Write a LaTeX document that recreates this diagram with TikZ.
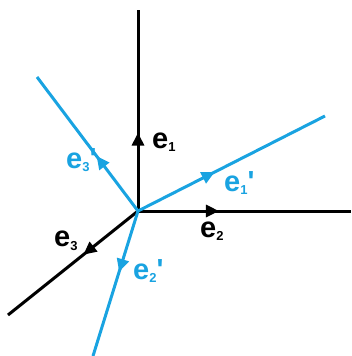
\documentclass[tikz,border=0pt]{standalone}
\usepackage{fontspec}
\usepackage{xcolor}
\usepackage{tikz}
\usetikzlibrary{arrows.meta,decorations.markings}

\newfontfamily\lblfont{Liberation Sans}
\definecolor{skyb}{RGB}{25,163,225}
\newcommand{\vsub}[1]{\raisebox{-0.12em}{\fontsize{13}{13}\selectfont\bfseries #1}}

\begin{document}
\begin{tikzpicture}[
  x=1pt, y=-1pt,
  ax/.style={line width=3pt, black,
    decoration={markings, mark=at position #1 with {\arrow{Triangle[length=13pt, width=12pt]}}},
    postaction=decorate},
  newax/.style={ax=#1, skyb},
  lbl/.style={font=\lblfont\bfseries\fontsize{29}{29}\selectfont, inner sep=0pt},
  newlbl/.style={lbl, text=skyb}
]
\useasboundingbox (0,0) rectangle (351,356);

% origin and ends of the axes
\coordinate (O) at (138,211);
\coordinate (e1end) at (138,10);
\coordinate (e2end) at (351,211);
\coordinate (e3end) at (8,315);
\coordinate (f1end) at (325,116);
\coordinate (f2end) at (93,356);
\coordinate (f3end) at (37,77);

% labels (before the lines, so the line covers the prime of e3')
\node[lbl, anchor=west] (l1) at (152,142) {e\vsub{1}};
\node[lbl, anchor=west] (l2) at (200,231) {e\vsub{2}};
\node[lbl, anchor=west] (l3) at (54,241) {e\vsub{3}};
\node[newlbl, anchor=west] (m1) at (224,183) {e\vsub{1}\textquotesingle};
\node[newlbl, anchor=west] (m2) at (133,271) {e\vsub{2}\textquotesingle};
\node[newlbl, anchor=west] (m3) at (66,160) {e\vsub{3}\textquotesingle};

% old frame
\draw[ax=0.39] (O) -- (e1end);
\draw[ax=0.38] (O) -- (e2end);
\draw[ax=0.42] (O) -- (e3end);
% new frame
\draw[newax=0.41] (O) -- (f1end);
\draw[newax=0.42] (O) -- (f2end);
\draw[newax=0.41] (O) -- (f3end);
\end{tikzpicture}
\end{document}
